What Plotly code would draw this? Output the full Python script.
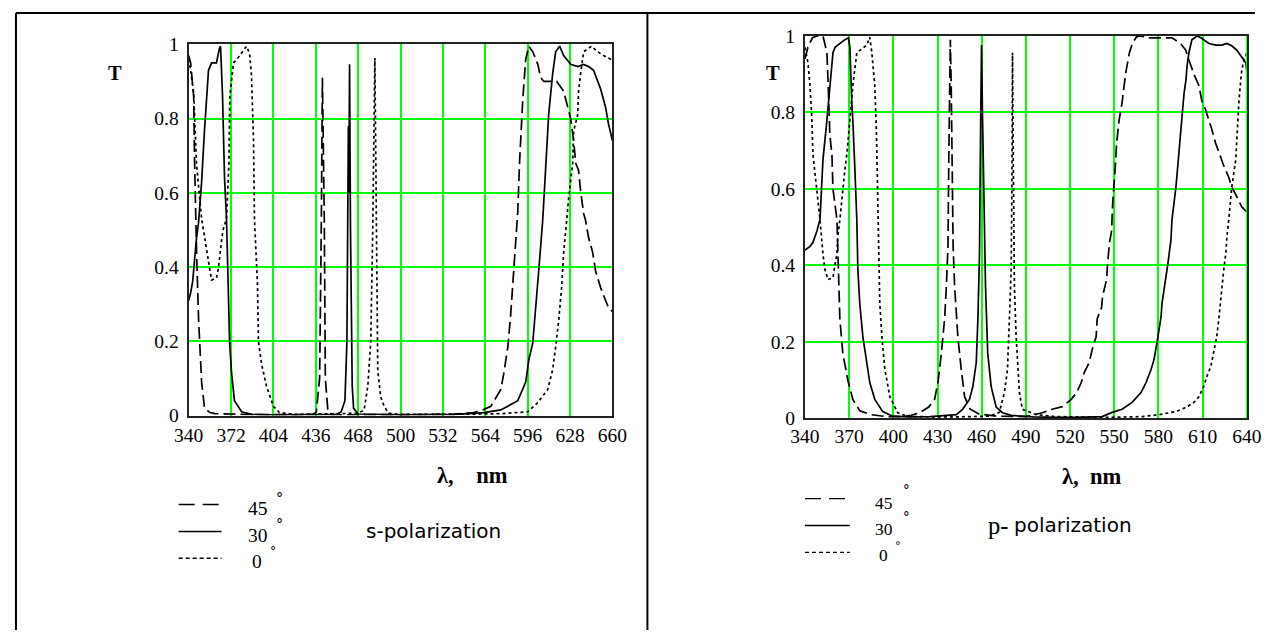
import plotly.graph_objects as go

# ---------------- data: s-polarization (left panel) ----------------
s_ticks = [340, 372, 404, 436, 468, 500, 532, 564, 596, 628, 660]

s45_wl = [340, 341.5, 343.8, 344.5, 346, 347.5, 349.8, 352, 356, 360, 380, 400, 420, 430, 434,
          436.4, 438.9, 440.2, 441, 442.4, 443.2, 445.2, 448, 455, 470, 500, 540, 555, 562,
          568.2, 575.7, 578, 581, 583.2, 585.5, 587, 588.5, 589.8, 592.3, 594.5, 596.8, 599.8,
          603.6, 605.8, 608.1, 611.8, 617.9, 623.1, 626.1, 628.4, 630.7, 632.2, 634.4, 635.9,
          638.2, 639.7, 641.9, 645, 647.2, 651, 654.8, 657, 660]
s45_T = [0.97, 0.95, 0.86, 0.68, 0.44, 0.26, 0.09, 0.02, 0.008, 0.005, 0.003, 0.002, 0.002, 0.003, 0.003,
         0.01, 0.1, 0.53, 0.91, 0.53, 0.1, 0.01, 0.003, 0.002, 0.002, 0.002, 0.003, 0.008, 0.015,
         0.025, 0.07, 0.115, 0.185, 0.275, 0.39, 0.48, 0.55, 0.68, 0.855, 0.96, 0.995, 0.98,
         0.946, 0.91, 0.9, 0.9, 0.9, 0.874, 0.83, 0.8, 0.74, 0.68, 0.66, 0.605,
         0.545, 0.525, 0.48, 0.44, 0.39, 0.345, 0.31, 0.29, 0.28]

s30_wl = [340, 341.5, 343, 344.5, 346, 347.5, 349.8, 352, 355, 357.3, 361, 363.3, 364.1, 365.6,
          367.1, 368.6, 370.1, 370.9, 372.4, 374.6, 380, 387.4, 400, 430, 445, 452, 455.2, 458,
          459.5, 460.2, 460.6, 461, 461.5, 462.2, 462.7, 463.5, 464.5, 468, 500, 540, 555, 562.9,
          575.7, 588.5, 594.5, 596.8, 599.8, 602, 604.3, 607.3, 609.6, 611.8, 614.8, 617.1, 620.1,
          623.1, 628.4, 633.7, 638.2, 642, 645.7, 651, 654.8, 657, 660]
s30_T = [0.31, 0.33, 0.36, 0.43, 0.48, 0.52, 0.63, 0.77, 0.93, 0.95, 0.95, 0.99, 0.995, 0.86,
         0.64, 0.53, 0.35, 0.2, 0.115, 0.04, 0.01, 0.003, 0.002, 0.002, 0.003, 0.003, 0.01, 0.04,
         0.2, 0.53, 0.78, 0.6, 0.946, 0.5, 0.26, 0.08, 0.02, 0.004, 0.002, 0.003, 0.006, 0.008,
         0.015, 0.04, 0.09, 0.15, 0.195, 0.3, 0.39, 0.525, 0.68, 0.81, 0.92, 0.98, 0.995,
         0.97, 0.946, 0.94, 0.946, 0.94, 0.93, 0.88, 0.83, 0.785, 0.74]

s0_wl = [340, 341.5, 343.8, 345.9, 349.8, 353.6, 357.3, 361, 362.6, 364.8, 366, 368.6, 370.4,
         371.1, 373.9, 377.6, 383.7, 386, 387.4, 389, 389.7, 392, 392.7, 395, 398.7, 404, 408.5,
         420, 460, 468, 472.5, 475.3, 477.5, 479, 480.6, 481.6, 482.8, 485, 487.6, 491, 500, 560,
         575.7, 596, 603.6, 611.1, 614.8, 617.1, 619.4, 621.6, 623.1, 625.4, 626.9, 629.9, 630.7,
         633.7, 634.4, 635.9, 638.2, 644.2, 648.7, 653.3, 658.5, 660]
s0_T = [0.96, 0.93, 0.87, 0.68, 0.53, 0.44, 0.365, 0.37, 0.4, 0.47, 0.5, 0.53, 0.68,
        0.86, 0.95, 0.965, 0.995, 0.975, 0.92, 0.74, 0.53, 0.35, 0.2, 0.14, 0.08, 0.025, 0.008,
        0.003, 0.004, 0.006, 0.015, 0.08, 0.2, 0.5, 0.963, 0.53, 0.12, 0.05, 0.025, 0.006, 0.003, 0.004,
        0.005, 0.01, 0.035, 0.07, 0.123, 0.185, 0.257, 0.345, 0.437, 0.525, 0.587, 0.678, 0.767,
        0.81, 0.874, 0.92, 0.98, 0.995, 0.98, 0.97, 0.96, 0.96]

# ---------------- data: p-polarization (right panel) ----------------
p_ticks = [340, 370, 400, 430, 460, 490, 520, 550, 580, 610, 640]

p45_wl = [340, 342, 345, 348.1, 352.2, 353.5, 354.9, 355.6, 356.9, 358.3, 359, 361.7, 363.7, 365.7,
          369.1, 372.5, 377.2, 385, 395, 405, 412, 418, 424, 428, 430.3, 432.6, 434.8, 436, 437.1,
          437.7, 438.2, 438.7, 439.3, 440, 440.6, 441.6, 443.8, 446.1, 448.4, 452, 458, 470, 490,
          501.2, 507.9, 514.7, 520.8, 524.5, 527.6, 529.6, 533, 535, 537.7, 538.4, 541.4, 542.1,
          544.8, 545.5, 546.8, 548.2, 548.9, 550.9, 551.6, 553.3, 555.3, 556.7, 558.1, 560.3, 562.3,
          565, 567, 573.6, 589.2, 595.1, 598.5, 600.7, 604.1, 607.5, 609.5, 612, 614.3, 616.3, 618.8,
          621, 624.4, 627.8, 629.8, 633.2, 636.6, 640]
p45_T = [0.94, 0.97, 0.995, 1.0, 1.0, 0.98, 0.956, 0.89, 0.74, 0.69, 0.6, 0.52, 0.26, 0.17,
         0.1, 0.05, 0.02, 0.01, 0.005, 0.005, 0.008, 0.015, 0.03, 0.05, 0.094, 0.17, 0.26, 0.345, 0.45,
         0.69, 0.87, 0.99, 0.87, 0.6, 0.45, 0.345, 0.214, 0.128, 0.057, 0.025, 0.012, 0.006, 0.005,
         0.015, 0.024, 0.031, 0.05, 0.068, 0.094, 0.12, 0.146, 0.18, 0.214, 0.26, 0.29, 0.32,
         0.363, 0.407, 0.46, 0.49, 0.56, 0.67, 0.72, 0.78, 0.825, 0.87, 0.91, 0.956, 0.98,
         0.997, 1.0, 0.995, 0.995, 0.98, 0.963, 0.937, 0.9, 0.87, 0.83, 0.807, 0.78, 0.755, 0.72,
         0.695, 0.66, 0.63, 0.605, 0.58, 0.553, 0.54]

p30_wl = [340, 343.4, 345.4, 348.1, 350.2, 352.2, 354.9, 356.9, 359, 360.4, 363.7, 367.1, 369.5,
          370.5, 371.8, 372.5, 373.9, 375.2, 375.9, 377.2, 379.3, 382, 384, 387.4, 392.8, 399.6, 410,
          425, 435, 442.7, 447, 451.7, 454, 456.3, 457.4, 458.5, 459.3, 459.9, 460.5, 461.9, 462.6,
          464.1, 466.4, 469.8, 474.1, 480, 495, 510, 524.2, 541.8, 548.6, 555.3, 562.1, 568.2, 571.6,
          575, 577, 579.1, 580.4, 581.8, 582.4, 585.1, 586.5, 588.5, 589.2, 591.9, 593.9, 596, 597.4,
          598.7, 599.4, 600.7, 602.7, 605.4, 606.1, 608.8, 612.2, 614.3, 619, 623.1, 626.5, 629.8,
          633.2, 636.6, 639.3, 640]
p30_T = [0.44, 0.45, 0.46, 0.49, 0.52, 0.676, 0.78, 0.87, 0.956, 0.97, 0.98, 0.99, 0.995,
         0.97, 0.825, 0.78, 0.65, 0.52, 0.39, 0.3, 0.214, 0.146, 0.094, 0.05, 0.018, 0.006, 0.004,
         0.005, 0.007, 0.01, 0.024, 0.05, 0.084, 0.146, 0.26, 0.43, 0.78, 0.976, 0.8, 0.52, 0.345,
         0.17, 0.084, 0.03, 0.015, 0.008, 0.004, 0.003, 0.003, 0.005, 0.016, 0.024, 0.042, 0.068, 0.094,
         0.128, 0.154, 0.2, 0.232, 0.266, 0.3, 0.363, 0.407, 0.467, 0.52, 0.605, 0.695, 0.78, 0.85,
         0.885, 0.92, 0.956, 0.99, 0.997, 1.0, 0.995, 0.985, 0.98, 0.976, 0.976, 0.98, 0.974,
         0.963, 0.945, 0.93, 0.91]

p0_wl = [340, 342, 343.4, 344.7, 345.4, 348.1, 348.8, 350.2, 352.2, 353.5, 355.6, 359, 360.3, 361.7,
         362.3, 363.7, 367.1, 368.4, 370.5, 372.5, 375.2, 378, 382, 384, 385.4, 387.4, 388.5, 389.3,
         390, 390.8, 392.5, 394.2, 397.6, 401, 403, 410, 440, 465, 472, 475.4, 477.5, 478.8, 480,
         480.5, 480.9, 481.4, 482.2, 483.4, 484.4, 485.6, 487.6, 492.4, 497.1, 510, 546.5, 568.9,
         580.4, 591.9, 598.7, 604.1, 607.5, 610.8, 612.9, 615.6, 617.6, 619.6, 621, 623.1, 624.4,
         625.8, 626.5, 627.8, 629.8, 632.5, 633.2, 634.6, 635.9, 636.6, 638, 639.3, 640]
p0_T = [0.97, 0.93, 0.87, 0.78, 0.69, 0.6, 0.56, 0.52, 0.43, 0.39, 0.363, 0.368, 0.4, 0.43,
        0.475, 0.52, 0.65, 0.69, 0.78, 0.87, 0.956, 0.965, 0.976, 0.997, 0.956, 0.87, 0.75, 0.6,
        0.45, 0.3, 0.2, 0.13, 0.057, 0.03, 0.015, 0.005, 0.004, 0.006, 0.016, 0.068, 0.128, 0.26, 0.39,
        0.6, 0.956, 0.7, 0.345, 0.214, 0.128, 0.068, 0.024, 0.016, 0.01, 0.005, 0.003, 0.005,
        0.01, 0.018, 0.029, 0.042, 0.057, 0.084, 0.11, 0.136, 0.172, 0.214, 0.26, 0.345, 0.39,
        0.433, 0.475, 0.52, 0.605, 0.676, 0.736, 0.825, 0.885, 0.91, 0.937, 0.945, 0.96]

y_ticks = [0, 0.2, 0.4, 0.6, 0.8, 1]
y_tick_text = ["0", "0.2", "0.4", "0.6", "0.8", "1"]

# ---------------- layout helpers ----------------
W, H = 1270, 641
# the photographed page is inset slightly; map target picture pixels to page pixels
SX, OX, SY, OY = 0.979, 12.9, 0.972, 9.0

def px(x):
    return max(0.0, min(1.0, ((x - OX) / SX) / W))
def py(y):
    return max(0.0, min(1.0, 1 - ((y - OY) / SY) / H))
def fs(s):
    return round(s / 0.976, 1)

GREEN = "#00ff00"
SERIF = "Liberation Serif"
SANS = "DejaVu Sans"
DASH45 = "12px,5px"
DOT0 = "3px,3px"

fig = go.Figure()

def add_series(wl, T, dash, xa, ya, width=1.7):
    fig.add_trace(go.Scatter(x=wl, y=T, mode="lines", xaxis=xa, yaxis=ya,
                             line=dict(color="black", width=width, dash=dash),
                             showlegend=False, hoverinfo="skip"))

add_series(s45_wl, s45_T, DASH45, "x", "y")
add_series(s30_wl, s30_T, "solid", "x", "y")
add_series(s0_wl, s0_T, DOT0, "x", "y")
add_series(p45_wl, p45_T, DASH45, "x2", "y2")
add_series(p30_wl, p30_T, "solid", "x2", "y2")
add_series(p0_wl, p0_T, DOT0, "x2", "y2")

axis_common = dict(showgrid=True, gridcolor=GREEN, gridwidth=2, zeroline=False,
                   showline=True, linecolor="#222222", linewidth=2, mirror=True,
                   ticks="", tickfont=dict(family=SERIF, size=fs(19), color="black"))

fig.update_layout(
    width=W, height=H, margin=dict(l=0, r=0, t=0, b=0),
    paper_bgcolor="white", plot_bgcolor="white",
    xaxis=dict(domain=[px(187), px(612)], range=[340, 660], tickvals=s_ticks,
               anchor="y", ticklabelstandoff=1, **axis_common),
    yaxis=dict(domain=[py(416.5), py(43.5)], range=[0, 1], tickvals=y_ticks,
               ticktext=y_tick_text, anchor="x", ticklabelstandoff=4, **axis_common),
    xaxis2=dict(domain=[px(805), px(1248)], range=[340, 640], tickvals=p_ticks,
                anchor="y2", ticklabelstandoff=-1, **axis_common),
    yaxis2=dict(domain=[py(419.5), py(35)], range=[0, 1], tickvals=y_ticks,
                ticktext=y_tick_text, anchor="x2", ticklabelstandoff=4, **axis_common),
)

shapes = []
# table frame
for (x0, y0, x1, y1) in [(4, 12, 1270, 12), (4, 12, 4, 641), (647, 12, 647, 641)]:
    X0 = max(px(x0), 1.0 / W)
    X1 = max(px(x1), 1.0 / W)
    shapes.append(dict(type="line", xref="paper", yref="paper", x0=X0, y0=py(y0),
                       x1=X1, y1=py(y1), line=dict(color="black", width=2)))
# green right edge of the right panel
shapes.append(dict(type="line", xref="x2", yref="y2", x0=640, x1=640, y0=0, y1=1,
                   line=dict(color=GREEN, width=2), layer="above"))

# legend sample lines
def legend_lines(x0, x1, ys):
    for y, dash in zip(ys, ["16px,8px", "solid", "4px,3px"]):
        shapes.append(dict(type="line", xref="paper", yref="paper", x0=px(x0), x1=px(x1),
                           y0=py(y), y1=py(y), line=dict(color="black", width=1.4, dash=dash)))
legend_lines(177, 220, [506, 533, 560])
legend_lines(805, 850, [500, 527, 554])
fig.update_layout(shapes=shapes)

ann = []
def text(x, y, s, size=16, family=SERIF, bold=False, xanchor="center"):
    if bold:
        s = "<b>" + s + "</b>"
    ann.append(dict(xref="paper", yref="paper", x=px(x), y=py(y), text=s, showarrow=False,
                    xanchor=xanchor, yanchor="middle",
                    font=dict(family=family, size=fs(size), color="black")))

# axis titles
text(113, 72, "T", 20, bold=True)
text(773, 72, "T", 20, bold=True)
text(472, 477, "λ,&nbsp;&nbsp;&nbsp;&nbsp;nm", 22, bold=True)
text(1092, 478, "λ,&nbsp;&nbsp;nm", 22, bold=True)

# legend labels (left)
text(245, 510, "45", 19, xanchor="left")
text(273, 499, "°", 14, family=SANS, xanchor="left")
text(245, 537, "30", 19, xanchor="left")
text(273, 526, "°", 14, family=SANS, xanchor="left")
text(249, 563, "0", 19, xanchor="left")
text(267, 553, "°", 12, family=SANS, xanchor="left")
text(363, 533, "s-polarization", 19.5, family=SANS, xanchor="left")

# legend labels (right)
text(873, 504, "45", 17, xanchor="left")
text(901, 492, "°", 13, family=SANS, xanchor="left")
text(873, 531, "30", 17, xanchor="left")
text(901, 519, "°", 13, family=SANS, xanchor="left")
text(877, 557, "0", 17, xanchor="left")
text(893, 547, "°", 11, family=SANS, xanchor="left")
text(987, 527, "p-", 24, xanchor="left")
text(1013, 527, "polarization", 19.5, family=SANS, xanchor="left")

fig.update_layout(annotations=ann)

fig.write_html(
    "out.html",
    config={"displayModeBar": False, "responsive": False},
    post_script=("var d=document.getElementById('{plot_id}');"
                 "d.style.position='fixed';d.style.left='0px';d.style.top='0px';"
                 "document.documentElement.style.margin='0';"
                 "document.body.style.margin='0';document.body.style.padding='0';"
                 "document.documentElement.style.overflow='hidden';"
                 "document.body.style.overflow='hidden';"),
)
